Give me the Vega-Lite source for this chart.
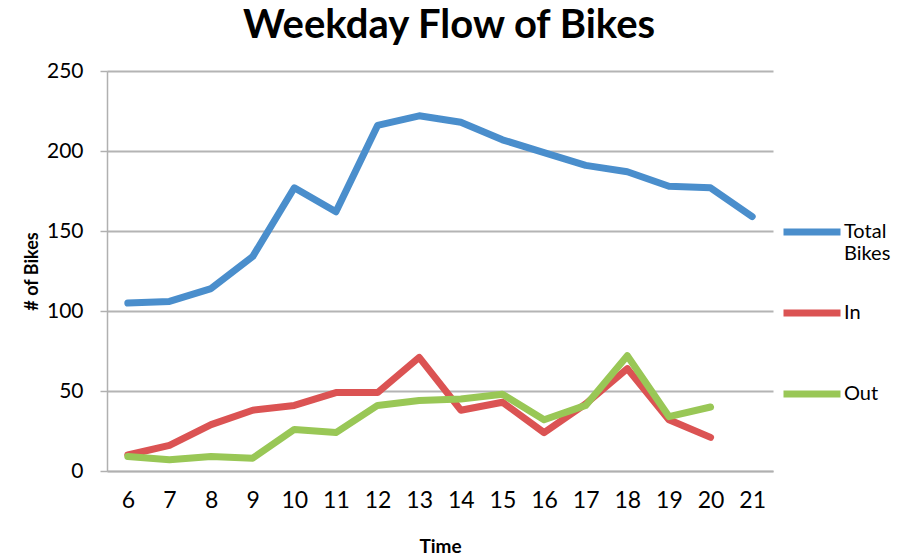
{
  "$schema": "https://vega.github.io/schema/vega-lite/v6.json",
  "width": 666,
  "height": 400,
  "autosize": "none",
  "padding": {"left": 107, "top": 71, "right": 126, "bottom": 86},
  "background": "white",
  "title": {"text": "Weekday Flow of Bikes", "font": "Lato", "fontSize": 40, "fontWeight": "bold", "color": "black", "anchor": "middle", "offset": 14, "dx": 9},
  "data": {"values": [
    {"time": 6, "series": "Total Bikes", "value": 105},
    {"time": 7, "series": "Total Bikes", "value": 106},
    {"time": 8, "series": "Total Bikes", "value": 114},
    {"time": 9, "series": "Total Bikes", "value": 134},
    {"time": 10, "series": "Total Bikes", "value": 177},
    {"time": 11, "series": "Total Bikes", "value": 162},
    {"time": 12, "series": "Total Bikes", "value": 216},
    {"time": 13, "series": "Total Bikes", "value": 222},
    {"time": 14, "series": "Total Bikes", "value": 218},
    {"time": 15, "series": "Total Bikes", "value": 207},
    {"time": 16, "series": "Total Bikes", "value": 199},
    {"time": 17, "series": "Total Bikes", "value": 191},
    {"time": 18, "series": "Total Bikes", "value": 187},
    {"time": 19, "series": "Total Bikes", "value": 178},
    {"time": 20, "series": "Total Bikes", "value": 177},
    {"time": 21, "series": "Total Bikes", "value": 159},
    {"time": 6, "series": "In", "value": 10},
    {"time": 7, "series": "In", "value": 16},
    {"time": 8, "series": "In", "value": 29},
    {"time": 9, "series": "In", "value": 38},
    {"time": 10, "series": "In", "value": 41},
    {"time": 11, "series": "In", "value": 49},
    {"time": 12, "series": "In", "value": 49},
    {"time": 13, "series": "In", "value": 71},
    {"time": 14, "series": "In", "value": 38},
    {"time": 15, "series": "In", "value": 43},
    {"time": 16, "series": "In", "value": 24},
    {"time": 17, "series": "In", "value": 42},
    {"time": 18, "series": "In", "value": 64},
    {"time": 19, "series": "In", "value": 32},
    {"time": 20, "series": "In", "value": 21},
    {"time": 6, "series": "Out", "value": 9},
    {"time": 7, "series": "Out", "value": 7},
    {"time": 8, "series": "Out", "value": 9},
    {"time": 9, "series": "Out", "value": 8},
    {"time": 10, "series": "Out", "value": 26},
    {"time": 11, "series": "Out", "value": 24},
    {"time": 12, "series": "Out", "value": 41},
    {"time": 13, "series": "Out", "value": 44},
    {"time": 14, "series": "Out", "value": 45},
    {"time": 15, "series": "Out", "value": 48},
    {"time": 16, "series": "Out", "value": 32},
    {"time": 17, "series": "Out", "value": 41},
    {"time": 18, "series": "Out", "value": 72},
    {"time": 19, "series": "Out", "value": 34},
    {"time": 20, "series": "Out", "value": 40}
  ]},
  "config": {
    "view": {"stroke": null},
    "font": "Lato"
  },
  "mark": {"type": "line", "strokeWidth": 7, "strokeCap": "round", "strokeJoin": "round"},
  "encoding": {
    "x": {
      "field": "time", "type": "ordinal",
      "scale": {"type": "point", "padding": 0.5, "domain": [6,7,8,9,10,11,12,13,14,15,16,17,18,19,20,21]},
      "axis": {"title": "Time", "labelAngle": 0, "labelFont": "Lato", "labelFontSize": 23, "labelColor": "black", "labelPadding": 18, "ticks": false, "domainColor": "#b0b0b0", "domainWidth": 1.5, "grid": false, "titleFont": "Lato", "titleFontSize": 19, "titleFontWeight": "bold", "titleColor": "black", "titlePadding": 25}
    },
    "y": {
      "field": "value", "type": "quantitative",
      "scale": {"domain": [0, 250], "nice": false},
      "axis": {"title": "# of Bikes", "values": [0,50,100,150,200,250], "labelFont": "Lato", "labelFontSize": 21, "labelColor": "black", "labelPadding": 17, "tickSize": 7, "tickColor": "#b0b0b0", "tickWidth": 1.5, "domainColor": "#b0b0b0", "domainWidth": 1.5, "grid": true, "gridColor": "#b4b4b4", "gridWidth": 1.8, "titleFont": "Lato", "titleFontSize": 18, "titleFontWeight": "bold", "titleColor": "black", "titlePadding": 5}
    },
    "color": {
      "field": "series", "type": "nominal",
      "scale": {"domain": ["Total Bikes", "In", "Out"], "range": ["#4a8ecc", "#db5353", "#99c756"]},
      "legend": {"title": null, "orient": "none", "legendX": 673, "legendY": 129, "symbolType": "stroke", "symbolSize": 3249, "symbolStrokeWidth": 7, "labelFont": "Lato", "labelFontSize": 20, "labelColor": "black", "labelOffset": 0, "rowPadding": 17, "padding": 0, "labelLimit": 200,
        "labelExpr": "datum.label == 'Total Bikes' ? ['Total', 'Bikes'] : [datum.label, ' ']"}
    }
  }
}
